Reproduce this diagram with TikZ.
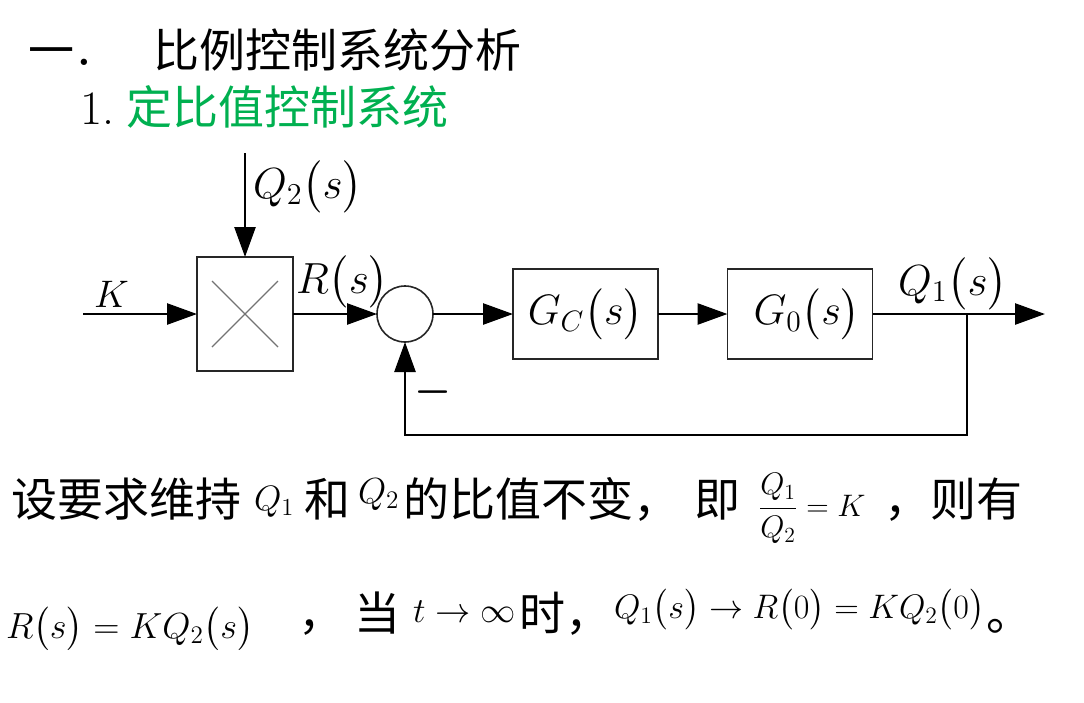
\documentclass[tikz,border=0pt]{standalone}
\usepackage{amsmath}
\usepackage{fontspec}
\usetikzlibrary{arrows.meta}
\newfontfamily\cjk{Noto Sans CJK SC}
\definecolor{pptgreen}{RGB}{0,176,80}
\newcommand{\fsz}[1]{\fontsize{#1}{#1}\selectfont}
% math set at 20.74pt, then scaled to the wanted size
\newcommand{\mth}[2]{\scalebox{#1}{\fontsize{20.74}{24}\selectfont$#2$}}
\begin{document}
\begin{tikzpicture}[x=1pt,y=-1pt,
  every node/.style={inner sep=0pt, outer sep=0pt},
  blk/.style={draw=black!85, line width=1.6pt, minimum width=145pt, minimum height=90pt},
  mulbox/.style={draw=black!85, line width=1.6pt, minimum width=96pt, minimum height=114pt},
  sumc/.style={circle, draw=black!85, line width=1.6pt, minimum size=56pt},
  sig/.style={line width=2.6pt, -{Triangle[length=30pt,width=21pt]}},
  bw/.style={anchor=base west},
  cn/.style={font=\cjk\fsz{46}, anchor=base west},
]
\useasboundingbox (0,0) rectangle (1084,702);
% title
\node[cn] (t1a) at (28,67) {一};
\node[font=\fsz{44}\bfseries] (t1dot) at (84,62) {.};
\node[cn] (t1) at (153,67) {比例控制系统分析};
\node[font=\fsz{48}, anchor=base west] (n1) at (80,124) {1.};
\node[cn, text=pptgreen] (t2) at (126,124) {定比值控制系统};
% diagram
\node[mulbox] (mul) at (245,314) {};
\draw[black!55, line width=1.2pt] ([shift={(-33,-33)}]mul.center) -- ([shift={(33,33)}]mul.center)
  ([shift={(-33,33)}]mul.center) -- ([shift={(33,-33)}]mul.center);
\node[sumc] (sum) at (405,314) {};
\node[blk] (gc) at (585.5,314) {\mth{2.05}{G_{C}\big(s\big)}};
\node[blk] (g0) at (800,314) {\hspace*{14pt}\mth{2.05}{G_{0}\big(s\big)}};
\coordinate (kin) at (83,314);
\coordinate (q2in) at (245,153);
\coordinate (br) at (967,314);
\coordinate (out) at (1045,314);
\coordinate (fb) at (967,435);
\draw[sig] (kin) -- (mul);
\draw[sig] (q2in) -- (mul);
\draw[sig] (mul) -- (sum);
\draw[sig] (sum) -- (gc);
\draw[sig] (gc) -- (g0);
\draw[sig] (g0) -- (out);
\draw[sig] (br) -- (fb) -| (sum);
\node[bw] (lk) at (94,307) {\mth{1.85}{K}};
\node[bw] (lq2) at (253,198) {\mth{2.1}{Q_2\big(s\big)}};
\node[bw] (lr) at (296,293) {\mth{2.1}{R\big(s\big)}};
\node[bw] (lq1) at (898,295) {\mth{2.1}{Q_1\big(s\big)}};
\node (neg) at (433,392) {\scalebox{2}{\fontsize{20.74}{24}\selectfont\boldmath$-$}};
% text line 1
\node[cn] (l1a) at (12,516) {设要求维持};
\node[bw] (l1q1) at (254,510) {\mth{1.7}{Q_1}};
\node[cn] (l1b) at (304,516) {和};
\node[bw] (l1q2) at (358,503) {\mth{1.75}{Q_2}};
\node[cn] (l1c) at (403,516) {的比值不变，};
\node[cn] (l1d) at (694,516) {即};
\node[anchor=base] (frac) at (812,516) {\mth{1.5}{\dfrac{Q_1}{Q_2}=K}};
\node[cn] (l1e) at (884,516) {，则有};
% text line 2
\node[bw] (l2a) at (6,638) {\mth{1.75}{R\big(s\big)=KQ_2\big(s\big)}};
\node[cn] (l2b) at (298,630) {，};
\node[cn] (l2c) at (354,630) {当};
\node[bw] (l2t) at (413,622) {\mth{1.7}{t\rightarrow\infty}};
\node[cn] (l2d) at (519,630) {时，};
\node[bw] (l2e) at (614,618) {\mth{1.64}{Q_1\big(s\big)\rightarrow R\big(0\big)=KQ_2\big(0\big)}};
\node[cn] (l2f) at (986,630) {。};
\end{tikzpicture}
\end{document}
